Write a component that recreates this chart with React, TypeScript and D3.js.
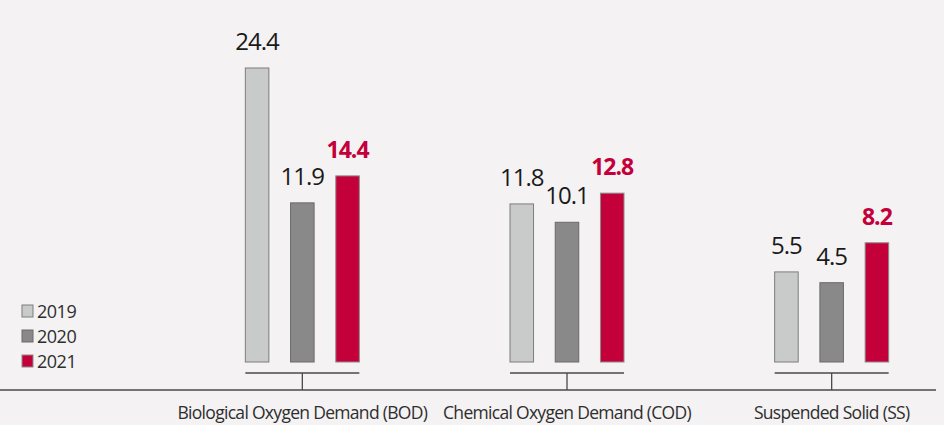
import React, { useEffect } from "react";
import * as d3 from "d3";

const categories = [
  "Biological Oxygen Demand (BOD)",
  "Chemical Oxygen Demand (COD)",
  "Suspended Solid (SS)",
];
const years = ["2019", "2020", "2021"];
const values2019 = [24.4, 11.8, 5.5];
const values2020 = [11.9, 10.1, 4.5];
const values2021 = [14.4, 12.8, 8.2];
const seriesValues = [values2019, values2020, values2021];

const W = 944;
const H = 425;
const fills = ["#c9cbca", "#898989", "#c4003a"];
const strokes = ["#7d7d7d", "#6a6a6a", "#8a8a8a"];
const FONT = "'Open Sans', 'Noto Sans', sans-serif";

export default function App() {
  useEffect(() => {
    document.body.style.margin = "0";
    document.body.style.background = "#f4f2f3";
  }, []);

  const x0 = d3.scaleBand<string>().domain(categories).range([170, 964]).padding(0);
  const x1 = d3.scaleBand<string>().domain(years).range([-57, 57]).paddingInner(0.48).paddingOuter(0);
  const y = d3.scaleLinear().domain([-2.85, 24.4]).range([362, 68]);
  const baseY = y(-2.85);
  const axisY = 390;
  const bracketY = 373;

  return (
    <svg width={W} height={H} style={{ display: "block", background: "#f4f2f3" }}>
      <rect x={0} y={0} width={W} height={H} fill="#f4f2f3" />
      <line x1={0} x2={936} y1={axisY} y2={axisY} stroke="#4a4a4a" strokeWidth={1.3} />
      {categories.map((cat, ci) => {
        const cx = (x0(cat) as number) + x0.bandwidth() / 2;
        return (
          <g key={cat}>
            {years.map((yr, si) => {
              const v = seriesValues[si][ci];
              const bx = cx + (x1(yr) as number);
              const top = y(v);
              const isLast = si === years.length - 1;
              return (
                <g key={yr}>
                  <rect
                    x={bx}
                    y={top}
                    width={x1.bandwidth()}
                    height={baseY - top}
                    fill={fills[si]}
                    stroke={strokes[si]}
                    strokeWidth={1}
                  />
                  <text
                    x={bx + x1.bandwidth() / 2}
                    y={top - 18}
                    textAnchor="middle"
                    fontFamily={FONT}
                    fontSize={isLast ? 23 : 24}
                    fontWeight={isLast ? 700 : 400}
                    letterSpacing={-1}
                    fill={isLast ? "#c4003a" : "#1a1a1a"}
                  >
                    {v.toFixed(1)}
                  </text>
                </g>
              );
            })}
            <line
              x1={cx + (x1(years[0]) as number)}
              x2={cx + (x1(years[years.length - 1]) as number) + x1.bandwidth()}
              y1={bracketY}
              y2={bracketY}
              stroke="#4a4a4a"
              strokeWidth={1.3}
            />
            <line x1={cx} x2={cx} y1={bracketY} y2={axisY} stroke="#4a4a4a" strokeWidth={1.3} />
            <text
              x={cx}
              y={419}
              textAnchor="middle"
              fontFamily={FONT}
              fontSize={17.5}
              letterSpacing={-0.7}
              fill="#2e2e2e"
            >
              {cat}
            </text>
          </g>
        );
      })}
      {years.map((yr, i) => (
        <g key={yr} transform={`translate(22, ${305 + i * 25})`}>
          <rect x={0} y={0} width={11} height={12} fill={fills[i]} stroke={strokes[i]} strokeWidth={1} />
          <text x={15} y={12.5} fontFamily={FONT} fontSize={18} letterSpacing={-0.5} fill="#2e2e2e">
            {yr}
          </text>
        </g>
      ))}
    </svg>
  );
}
